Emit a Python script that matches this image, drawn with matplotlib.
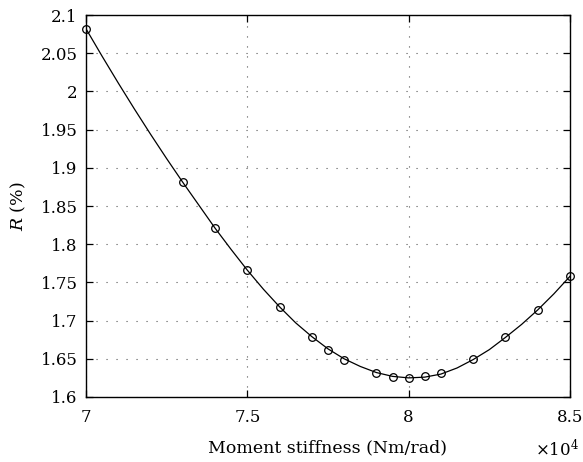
import numpy as np
import matplotlib
matplotlib.use('Agg')
import matplotlib.pyplot as plt

# measured points (x in units of 1e4 Nm/rad, R in %)
stiff_pts = [7.0, 7.3, 7.4, 7.5, 7.6, 7.7, 7.75, 7.8, 7.9, 7.95, 8.0, 8.05, 8.1, 8.2, 8.3, 8.4, 8.5]
r_pts = [2.082, 1.881, 1.821, 1.766, 1.718, 1.678, 1.662, 1.648, 1.631, 1.626, 1.625, 1.627, 1.631, 1.650, 1.678, 1.714, 1.758]

# fitted curve
stiff_fit = [7.0, 7.05, 7.1, 7.15, 7.2, 7.25, 7.3, 7.35, 7.4, 7.45, 7.5, 7.55, 7.6, 7.65, 7.7, 7.75,
             7.8, 7.85, 7.9, 7.95, 8.0, 8.05, 8.1, 8.15, 8.2, 8.25, 8.3, 8.35, 8.4, 8.45, 8.5]
r_fit = [2.082, 2.046, 2.011, 1.977, 1.944, 1.912, 1.881, 1.851, 1.821, 1.793, 1.766, 1.741, 1.718, 1.697,
         1.679, 1.663, 1.650, 1.640, 1.632, 1.627, 1.625, 1.626, 1.630, 1.638, 1.649, 1.662, 1.678, 1.695,
         1.714, 1.735, 1.758]

xticks = [7, 7.5, 8, 8.5]
xticklabels = ['7', '7.5', '8', '8.5']
yticks = [1.6, 1.65, 1.7, 1.75, 1.8, 1.85, 1.9, 1.95, 2.0, 2.05, 2.1]
yticklabels = ['1.6', '1.65', '1.7', '1.75', '1.8', '1.85', '1.9', '1.95', '2', '2.05', '2.1']

plt.rcParams['font.family'] = ['DejaVu Serif']
plt.rcParams['mathtext.fontset'] = 'dejavuserif'

fig = plt.figure(figsize=(5.83, 4.62), dpi=100)
ax = fig.add_axes([0.1475, 0.1407, 0.8302, 0.8268])

ax.plot(stiff_fit, r_fit, color='black', linewidth=0.9)
ax.plot(stiff_pts, r_pts, linestyle='none', marker='o', markersize=5.5,
        markerfacecolor='none', markeredgecolor='black', markeredgewidth=0.9, clip_on=False)

ax.set_xlim(7, 8.5)
ax.set_ylim(1.6, 2.1)
ax.set_xticks(xticks)
ax.set_xticklabels(xticklabels)
ax.set_yticks(yticks)
ax.set_yticklabels(yticklabels)

ax.grid(True, color='#555555', linestyle=(0, (1, 8)), linewidth=0.8)
ax.tick_params(direction='in', length=5, width=0.9, top=True, right=True, labelsize=12, pad=6)
ax.tick_params(axis='x', pad=9)
for s in ax.spines.values():
    s.set_linewidth(1.0)

ax.set_xlabel('Moment stiffness (Nm/rad)', fontsize=12.5, labelpad=9)
ax.set_ylabel('$R$ (%)', fontsize=12.5, labelpad=9)
fig.text(0.993, 0.004, r'$\times10^4$', fontsize=12, ha='right', va='bottom')

fig.savefig('out.png', dpi=100)
